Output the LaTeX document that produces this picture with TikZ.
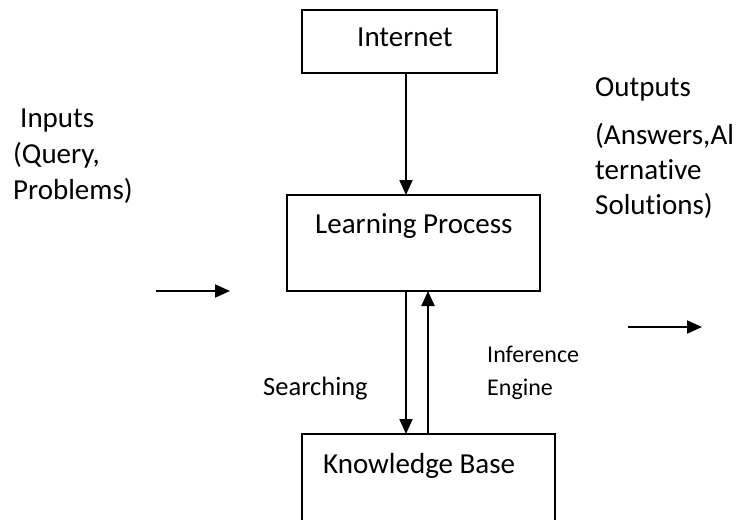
\documentclass[tikz,border=0pt]{standalone}
\usepackage{fontspec}
\setmainfont{Carlito}[Ligatures=NoCommon]
\usetikzlibrary{arrows.meta}
\begin{document}
\begin{tikzpicture}[x=1pt,y=-1pt,
  boxst/.style={draw=black,line width=2pt},
  lbl/.style={inner sep=0pt,anchor=base west,font=\fontsize{29}{34}\selectfont},
  slbl/.style={inner sep=0pt,anchor=base west,font=\fontsize{24}{29}\selectfont},
  conn/.style={line width=2pt,-{Triangle[length=15pt,width=13pt]}}]
\useasboundingbox (0,0) rectangle (738,519);
% boxes
\draw[boxst] (302,10) rectangle (497,73);
\coordinate (netB) at (406,73);
\draw[boxst] (287,195) rectangle (540,291);
\draw[boxst] (302,525) -- (302,434) -- (555,434) -- (555,525);
\coordinate (lpT) at (406,195);
\coordinate (lpB1) at (406,291);
\coordinate (lpB2) at (428,291);
\coordinate (kbT1) at (406,434);
\coordinate (kbT2) at (428,434);
% texts
\node[lbl] (internet) at (357,47) {Internet};
\node[lbl] (lp) at (315,233) {Learning Process};
\node[lbl] (kb) at (323,473) {Knowledge Base};
\node[lbl] (in1) at (20,127) {Inputs};
\node[lbl] (in2) at (13,163) {(Query,};
\node[lbl] (in3) at (13,199) {Problems)};
\node[lbl] (out1) at (595,96) {Outputs};
\node[lbl] (out2) at (595,144) {(Answers,Al};
\node[lbl] (out3) at (595,179) {ternative};
\node[lbl] (out4) at (595,214) {Solutions)};
\node[slbl,font=\fontsize{26.5}{32}\selectfont] (srch) at (263,395) {Searching};
\node[slbl] (inf1) at (487,362) {Inference};
\node[slbl] (inf2) at (487,395) {Engine};
% connectors
\draw[conn] (netB) -- (lpT);
\draw[conn] (lpB1) -- (kbT1);
\draw[conn] (kbT2) -- (lpB2);
\coordinate (ia) at (156,291);
\coordinate (ib) at (230,291);
\draw[conn] (ia) -- (ib);
\coordinate (oa) at (628,327);
\coordinate (ob) at (702,327);
\draw[conn] (oa) -- (ob);
\end{tikzpicture}
\end{document}
